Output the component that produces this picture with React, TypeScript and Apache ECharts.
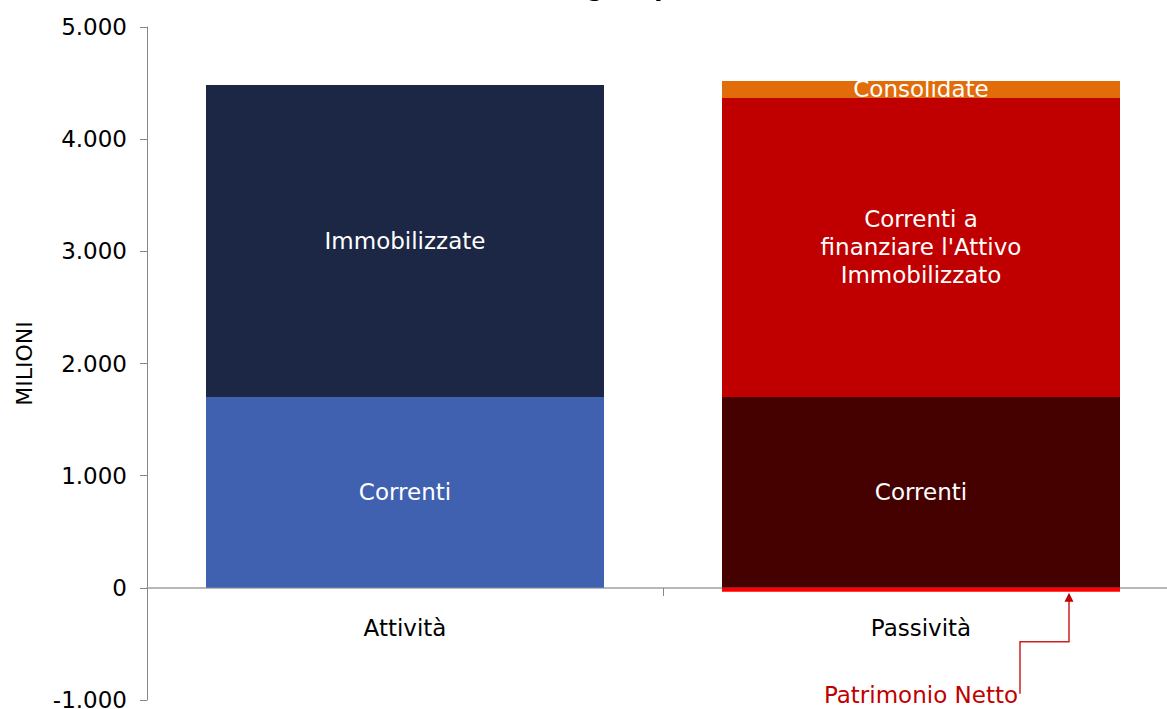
import React, { useEffect, useRef } from "react";
import * as echarts from "echarts";

const categories = ["Attività", "Passività"];
const yTicks = { min: -1000, max: 5000, interval: 1000 };

const attivitaCorrenti = [1702, "-"];
const attivitaImmobilizzate = [2781, "-"];
const passivitaCorrenti = ["-", 1702];
const passivitaCorrentiFinanziare = ["-", 2665];
const passivitaConsolidate = ["-", 152];
const patrimonioNetto = ["-", -36];

const titleText = "(Analisi degli equilibri)";
const annotationText = "Patrimonio Netto";

const FONT = "DejaVu Sans";

export default function App() {
  const ref = useRef<HTMLDivElement>(null);
  useEffect(() => {
    if (!ref.current) return;
    const chart = echarts.init(ref.current, null, { renderer: "svg" });
    const lbl = (show: boolean) => ({
      show,
      position: "inside" as const,
      color: "#ffffff",
      fontFamily: FONT,
      fontSize: 23,
      lineHeight: 28,
    });
    const mk = (name: string, data: any[], color: string, label: boolean, fmt?: string) => ({
      type: "bar",
      name,
      stack: "tot",
      data,
      barWidth: 398,
      itemStyle: { color },
      label: { ...lbl(label), formatter: fmt ?? name },
      emphasis: { disabled: true },
    });
    chart.setOption({
      animation: false,
      textStyle: { fontFamily: FONT },
      title: {
        text: titleText,
        left: 593,
        textAlign: "center",
        top: -29,
        textStyle: { fontFamily: FONT, fontSize: 24, fontWeight: "bold", color: "#000" },
      },
      grid: { left: 147, right: 0, top: 27, bottom: 9, containLabel: false, outerBoundsMode: "none" },
      xAxis: {
        type: "category",
        data: categories,
        position: "bottom",
        offset: -112,
        axisLine: { onZero: false, lineStyle: { color: "#a0a0a0", width: 1.5 } },
        axisTick: { show: true, length: 8, lineStyle: { color: "#888" } },
        axisLabel: { color: "#000", fontFamily: FONT, fontSize: 23, margin: 28 },
      },
      yAxis: {
        type: "value",
        min: yTicks.min,
        max: yTicks.max,
        interval: yTicks.interval,
        name: "MILIONI",
        nameLocation: "middle",
        nameRotate: 90,
        nameGap: 112,
        nameTextStyle: { color: "#000", fontFamily: FONT, fontSize: 22 },
        axisLine: { show: true, lineStyle: { color: "#888" } },
        axisTick: { show: true, length: 7, lineStyle: { color: "#888" } },
        splitLine: { show: false },
        axisLabel: {
          color: "#000",
          fontFamily: FONT,
          fontSize: 23,
          margin: 20,
          formatter: (v: number) => {
            const s = Math.abs(v).toString().replace(/\B(?=(\d{3})+(?!\d))/g, ".");
            return (v < 0 ? "-" : "") + s;
          },
        },
      },
      series: [
        mk("Correnti", attivitaCorrenti, "#4060B0", true),
        mk("Immobilizzate", attivitaImmobilizzate, "#1C2645", true),
        mk("Correnti ", passivitaCorrenti, "#450000", true, "Correnti"),
        mk(
          "Correnti a finanziare l'Attivo Immobilizzato",
          passivitaCorrentiFinanziare,
          "#C00000",
          true,
          "Correnti a\nfinanziare l'Attivo\nImmobilizzato"
        ),
        mk("Consolidate", passivitaConsolidate, "#E36C0A", true),
        mk(annotationText, patrimonioNetto, "#FF0000", false),
      ],
    });

    const p = chart.convertToPixel({ xAxisIndex: 0, yAxisIndex: 0 }, [categories[1], patrimonioNetto[1] as number]) as number[];
    const ax = p[0] + 148;
    const tipY = p[1] + 1;
    const elbowY = tipY + 49;
    const lx = ax - 49;
    const endY = elbowY + 52;
    const c = "#D02020";
    chart.setOption({
      graphic: [
        {
          type: "polyline",
          shape: { points: [[lx, endY], [lx, elbowY], [ax, elbowY], [ax, tipY + 7]] },
          style: { stroke: c, lineWidth: 1.5, fill: null },
          silent: true,
        },
        {
          type: "polygon",
          shape: { points: [[ax, tipY], [ax - 4.5, tipY + 9], [ax + 4.5, tipY + 9]] },
          style: { fill: "#C00000" },
          silent: true,
        },
        {
          type: "text",
          x: lx - 2,
          y: endY + 1,
          style: {
            text: annotationText,
            fill: "#C00000",
            font: `23px "${FONT}"`,
            textAlign: "right",
            textVerticalAlign: "middle",
          },
          silent: true,
        },
      ],
    });
    return () => chart.dispose();
  }, []);
  return (
    <div
      ref={ref}
      style={{ position: "fixed", left: 0, top: 0, width: 1179, height: 709, background: "#fff" }}
    />
  );
}
